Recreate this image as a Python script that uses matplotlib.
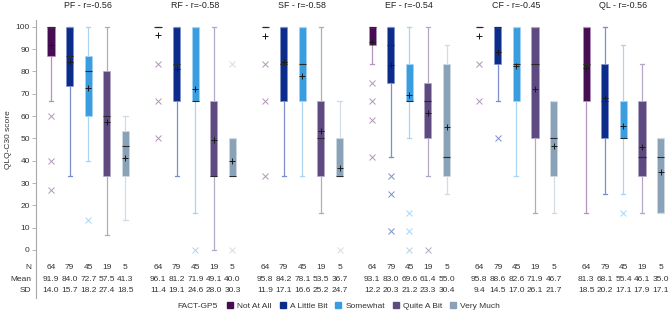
import matplotlib

matplotlib.use("Agg")
import matplotlib.pyplot as plt
import numpy as np
from matplotlib.lines import Line2D

plt.rcParams["font.family"] = ["Liberation Sans", "DejaVu Sans"]

SCALES = ["PF", "RF", "SF", "EF", "CF", "QL"]
R_VALUES = [-0.56, -0.58, -0.58, -0.54, -0.45, -0.56]
CATEGORIES = ["Not At All", "A Little Bit", "Somewhat", "Quite A Bit", "Very Much"]
N_COUNTS = [64, 79, 45, 19, 5]

# per scale, one value per FACT-GP5 category
MEANS = {
    "PF": [91.9, 84.0, 72.7, 57.5, 41.3],
    "RF": [96.1, 81.2, 71.9, 49.1, 40.0],
    "SF": [95.8, 84.2, 78.1, 53.5, 36.7],
    "EF": [93.1, 83.0, 69.6, 61.4, 55.0],
    "CF": [95.8, 88.6, 82.6, 71.9, 46.7],
    "QL": [81.3, 68.1, 55.4, 46.1, 35.0],
}
SDS = {
    "PF": [14.0, 15.7, 18.2, 27.4, 18.5],
    "RF": [11.4, 19.1, 24.6, 28.0, 30.3],
    "SF": [11.9, 17.1, 16.6, 25.2, 24.7],
    "EF": [12.2, 20.3, 21.2, 23.3, 30.4],
    "CF": [9.4, 14.5, 17.0, 26.1, 21.7],
    "QL": [18.5, 20.2, 17.1, 17.9, 17.1],
}
Q1 = {
    "PF": [86.7, 73.3, 60.0, 33.3, 33.3],
    "RF": [100, 66.7, 66.7, 33.3, 33.3],
    "SF": [100, 66.7, 66.7, 33.3, 33.3],
    "EF": [91.7, 75.0, 66.7, 50.0, 33.3],
    "CF": [100, 83.3, 66.7, 50.0, 33.3],
    "QL": [66.7, 50.0, 50.0, 33.3, 16.7],
}
MEDIANS = {
    "PF": [100, 86.7, 80.0, 60.0, 46.7],
    "RF": [100, 83.3, 66.7, 33.3, 33.3],
    "SF": [100, 83.3, 83.3, 50.0, 33.3],
    "EF": [100, 91.7, 66.7, 66.7, 41.7],
    "CF": [100, 100, 83.3, 83.3, 50.0],
    "QL": [83.3, 66.7, 50.0, 41.7, 41.7],
}
Q3 = {
    "PF": [100, 100, 86.7, 80.0, 53.3],
    "RF": [100, 100, 100, 66.7, 50.0],
    "SF": [100, 100, 100, 66.7, 50.0],
    "EF": [100, 100, 83.3, 75.0, 83.3],
    "CF": [100, 100, 100, 100, 66.7],
    "QL": [100, 83.3, 66.7, 66.7, 50.0],
}
WHIS_LO = {
    "PF": [66.7, 33.3, 40.0, 6.7, 13.3],
    "RF": [100, 33.3, 16.7, 0.0, 33.3],
    "SF": [100, 33.3, 33.3, 16.7, 33.3],
    "EF": [83.3, 41.7, 50.0, 33.3, 25.0],
    "CF": [100, 66.7, 33.3, 16.7, 16.7],
    "QL": [16.7, 25.0, 25.0, 16.7, 16.7],
}
WHIS_HI = {
    "PF": [100, 100, 100, 100, 60.0],
    "RF": [100, 100, 100, 100, 50.0],
    "SF": [100, 100, 100, 100, 66.7],
    "EF": [100, 100, 100, 100, 91.7],
    "CF": [100, 100, 100, 100, 66.7],
    "QL": [100, 100, 91.7, 83.3, 50.0],
}
FLIERS = {
    "PF": [[60.0, 40.0, 26.7], [], [13.3], [], []],
    "RF": [[83.3, 66.7, 50.0], [], [0.0], [], [83.3, 0.0]],
    "SF": [[83.3, 66.7, 33.3], [], [], [], [0.0]],
    "EF": [[75.0, 66.7, 58.3, 41.7], [33.3, 25.0, 8.3], [16.7, 8.3, 0.0], [0.0], []],
    "CF": [[83.3, 66.7], [50.0], [], [], []],
    "QL": [[], [], [16.7], [], []],
}

FILL = ["#470d52", "#0c2c8c", "#3a9de0", "#5e4a80", "#8aa2b8"]
LIGHT = ["#b594bc", "#7c8fcb", "#a9d5f3", "#b3a9c6", "#d2dce4"]

PANEL_STEP = 5.75
BOX_W = 0.38
TXT = 6.0
TITLE = 6.4

fig = plt.figure(figsize=(6.69, 3.11), dpi=100)
ax = fig.add_axes([36 / 669, 13 / 311, 633 / 669, 278 / 311])

for ci, cat in enumerate(CATEGORIES):
    stats = []
    for s in SCALES:
        stats.append(
            dict(
                q1=Q1[s][ci], med=MEDIANS[s][ci], q3=Q3[s][ci],
                whislo=WHIS_LO[s][ci], whishi=WHIS_HI[s][ci],
                mean=MEANS[s][ci], fliers=FLIERS[s][ci],
            )
        )
    pos = np.arange(len(SCALES)) * PANEL_STEP + ci
    ax.bxp(
        stats,
        positions=pos,
        widths=BOX_W,
        capwidths=0.22,
        patch_artist=True,
        showmeans=True,
        boxprops=dict(facecolor=FILL[ci], edgecolor=LIGHT[ci], linewidth=0.4),
        whiskerprops=dict(color=LIGHT[ci], linewidth=0.9),
        capprops=dict(color=LIGHT[ci], linewidth=0.9),
        medianprops=dict(color="#2a2a2a", linewidth=0.8),
        meanprops=dict(marker="+", markeredgecolor="#1a1a1a", markersize=5,
                       markeredgewidth=0.7),
        flierprops=dict(marker="x", markeredgecolor=LIGHT[ci], markersize=4,
                        markeredgewidth=0.7, linestyle="none"),
        manage_ticks=False,
    )

ax.set_xlim(-0.806, 33.2)
ax.set_ylim(-21.5, 103)

# panel titles and N / Mean / SD table
ROW_Y = [-8.0, -13.2, -18.3]
for si, s in enumerate(SCALES):
    cx = si * PANEL_STEP + 2
    ax.text(cx, 109.5, f"{s} - r={R_VALUES[si]:.2f}", ha="center", va="center",
            fontsize=TITLE, color="#222222", clip_on=False)
    for ci in range(len(CATEGORIES)):
        x = si * PANEL_STEP + ci
        ax.text(x, ROW_Y[0], f"{N_COUNTS[ci]}", ha="center", va="center",
                fontsize=TXT, color="#333333")
        ax.text(x, ROW_Y[1], f"{MEANS[s][ci]:.1f}", ha="center", va="center",
                fontsize=TXT, color="#333333")
        ax.text(x, ROW_Y[2], f"{SDS[s][ci]:.1f}", ha="center", va="center",
                fontsize=TXT, color="#333333")

for label, y in zip(["N", "Mean", "SD"], ROW_Y):
    ax.text(-0.007, y, label, ha="right", va="center", fontsize=TXT,
            color="#333333", transform=ax.get_yaxis_transform(), clip_on=False)

for side in ["top", "right", "bottom"]:
    ax.spines[side].set_visible(False)
ax.spines["left"].set_color("#a8a8a8")
ax.spines["left"].set_linewidth(0.8)
ax.set_xticks([])
ax.set_yticks(np.arange(0, 101, 10))
ax.tick_params(axis="y", length=3, width=0.6, color="#a8a8a8", labelsize=TXT,
               labelcolor="#333333", pad=1.5)
ax.set_ylabel("QLQ-C30 score", fontsize=TXT, color="#333333")
ax.yaxis.set_label_coords(-0.038, 0.57)

fig.text(177 / 669, 5 / 311, "FACT-GP5", ha="left", va="center",
         fontsize=TXT, color="#333333")
handles = [
    Line2D([], [], marker="s", linestyle="none", markersize=4.5,
           markerfacecolor=FILL[i], markeredgecolor=FILL[i], label=cat)
    for i, cat in enumerate(CATEGORIES)
]
fig.legend(
    handles=handles,
    loc="center left",
    bbox_to_anchor=(227 / 669, 5 / 311),
    ncol=5,
    frameon=False,
    fontsize=TXT,
    handlelength=0.8,
    handletextpad=0.45,
    columnspacing=0.9,
    borderpad=0,
    borderaxespad=0,
    labelcolor="#333333",
)

fig.savefig("out.png", dpi=100)
